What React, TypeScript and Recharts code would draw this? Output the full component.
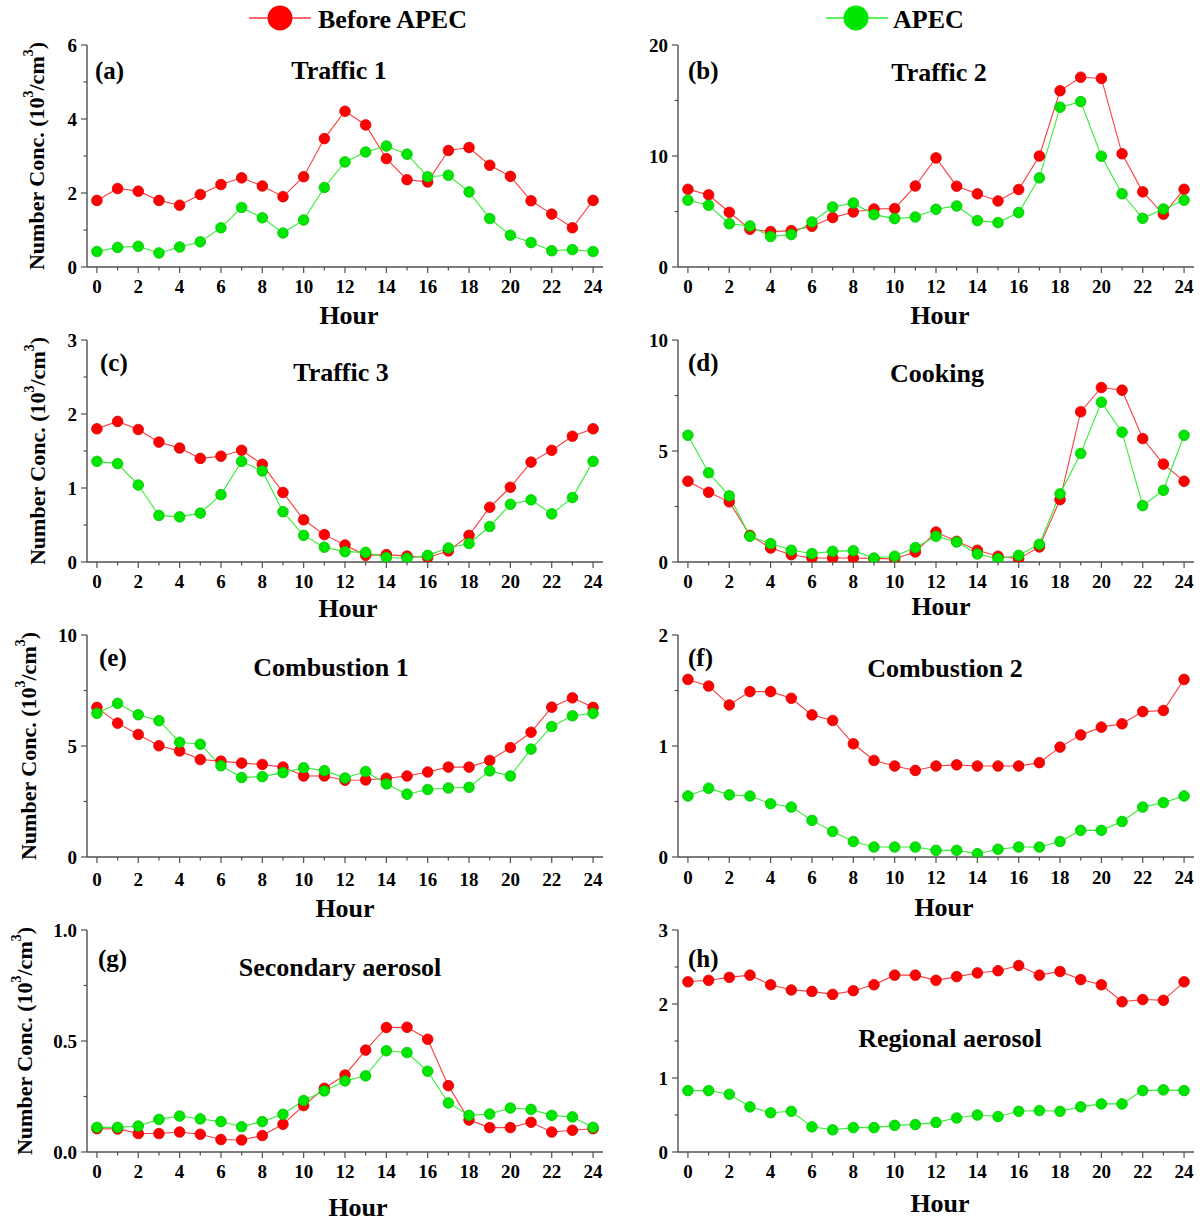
import React from 'react';
import { LineChart, Line, XAxis, YAxis } from 'recharts';

// ---------- data ----------
const hours = [0, 1, 2, 3, 4, 5, 6, 7, 8, 9, 10, 11, 12, 13, 14, 15, 16, 17, 18, 19, 20, 21, 22, 23, 24];
const xMajorTicks = [0, 2, 4, 6, 8, 10, 12, 14, 16, 18, 20, 22, 24];

const traffic1Before = [1.80, 2.12, 2.05, 1.80, 1.67, 1.96, 2.23, 2.41, 2.19, 1.90, 2.44, 3.47, 4.21, 3.84, 2.93, 2.36, 2.30, 3.15, 3.23, 2.75, 2.45, 1.79, 1.43, 1.06, 1.80];
const traffic1Apec = [0.42, 0.53, 0.56, 0.38, 0.54, 0.68, 1.06, 1.61, 1.33, 0.92, 1.27, 2.15, 2.84, 3.11, 3.27, 3.05, 2.44, 2.48, 2.03, 1.31, 0.86, 0.66, 0.44, 0.47, 0.42];

const traffic2Before = [7.0, 6.5, 4.93, 3.4, 3.19, 3.28, 3.67, 4.45, 4.96, 5.23, 5.26, 7.3, 9.83, 7.28, 6.59, 5.95, 6.98, 10.0, 15.88, 17.1, 16.99, 10.2, 6.77, 4.75, 7.0];
const traffic2Apec = [6.02, 5.56, 3.9, 3.7, 2.74, 2.92, 4.06, 5.41, 5.77, 4.72, 4.36, 4.51, 5.2, 5.5, 4.18, 4.0, 4.9, 8.03, 14.4, 14.9, 9.98, 6.6, 4.39, 5.23, 6.02];

const traffic3Before = [1.80, 1.90, 1.79, 1.62, 1.54, 1.40, 1.43, 1.51, 1.32, 0.94, 0.57, 0.37, 0.23, 0.09, 0.10, 0.08, 0.06, 0.15, 0.36, 0.74, 1.01, 1.35, 1.51, 1.70, 1.80];
const traffic3Apec = [1.36, 1.33, 1.04, 0.63, 0.61, 0.66, 0.91, 1.36, 1.23, 0.68, 0.36, 0.20, 0.14, 0.13, 0.06, 0.05, 0.09, 0.19, 0.25, 0.48, 0.78, 0.84, 0.65, 0.87, 1.36];

const cookingBefore = [3.64, 3.14, 2.71, 1.2, 0.63, 0.33, 0.18, 0.18, 0.18, 0.15, 0.15, 0.45, 1.35, 0.93, 0.53, 0.26, 0.15, 0.68, 2.81, 6.77, 7.86, 7.74, 5.56, 4.41, 3.64];
const cookingApec = [5.71, 4.02, 2.98, 1.16, 0.83, 0.53, 0.38, 0.48, 0.51, 0.18, 0.26, 0.65, 1.16, 0.9, 0.36, 0.15, 0.3, 0.8, 3.07, 4.89, 7.2, 5.85, 2.54, 3.23, 5.71];

const combustion1Before = [6.74, 6.03, 5.52, 5.01, 4.78, 4.39, 4.32, 4.23, 4.17, 4.05, 3.65, 3.65, 3.46, 3.47, 3.55, 3.65, 3.83, 4.05, 4.05, 4.35, 4.93, 5.62, 6.75, 7.17, 6.74];
const combustion1Apec = [6.47, 6.92, 6.41, 6.14, 5.17, 5.08, 4.11, 3.58, 3.62, 3.80, 4.02, 3.89, 3.56, 3.85, 3.29, 2.83, 3.04, 3.11, 3.14, 3.88, 3.65, 4.86, 5.88, 6.36, 6.47];

const combustion2Before = [1.60, 1.54, 1.37, 1.49, 1.49, 1.43, 1.28, 1.23, 1.02, 0.87, 0.82, 0.78, 0.82, 0.83, 0.82, 0.82, 0.82, 0.85, 0.99, 1.10, 1.17, 1.20, 1.31, 1.32, 1.60];
const combustion2Apec = [0.55, 0.62, 0.56, 0.55, 0.48, 0.45, 0.33, 0.23, 0.14, 0.09, 0.09, 0.09, 0.06, 0.06, 0.03, 0.07, 0.09, 0.09, 0.14, 0.24, 0.24, 0.32, 0.45, 0.49, 0.55];

const secondaryBefore = [0.105, 0.104, 0.083, 0.083, 0.09, 0.08, 0.056, 0.054, 0.074, 0.125, 0.209, 0.287, 0.347, 0.459, 0.561, 0.562, 0.508, 0.299, 0.144, 0.11, 0.11, 0.134, 0.09, 0.098, 0.105];
const secondaryApec = [0.111, 0.111, 0.117, 0.147, 0.162, 0.149, 0.137, 0.114, 0.137, 0.170, 0.232, 0.275, 0.32, 0.343, 0.456, 0.448, 0.364, 0.221, 0.165, 0.171, 0.198, 0.192, 0.165, 0.158, 0.111];

const regionalBefore = [2.30, 2.32, 2.36, 2.39, 2.26, 2.19, 2.17, 2.13, 2.18, 2.26, 2.39, 2.39, 2.32, 2.37, 2.42, 2.45, 2.52, 2.39, 2.44, 2.33, 2.26, 2.03, 2.06, 2.05, 2.30];
const regionalApec = [0.83, 0.83, 0.78, 0.61, 0.53, 0.55, 0.34, 0.30, 0.33, 0.33, 0.36, 0.37, 0.40, 0.46, 0.50, 0.48, 0.55, 0.56, 0.55, 0.61, 0.65, 0.65, 0.83, 0.84, 0.83];

const seriesNames = ['Before APEC', 'APEC'];

// y ticks (major labelled, minor unlabelled)
const yMajorA = [0, 2, 4, 6];
const yMinorA = [1, 3, 5];
const yMajorB = [0, 10, 20];
const yMinorB = [5, 15];
const yMajorC = [0, 1, 2, 3];
const yMinorC = [0.5, 1.5, 2.5];
const yMajorD = [0, 5, 10];
const yMinorD = [2.5, 7.5];
const yMajorE = [0, 5, 10];
const yMinorE = [2.5, 7.5];
const yMajorF = [0, 1, 2];
const yMinorF = [0.5, 1.5];
const yMajorG = [0, 0.5, 1.0];
const yMinorG = [0.25, 0.75];
const yMajorH = [0, 1, 2, 3];
const yMinorH = [0.5, 1.5, 2.5];

// ---------- styles ----------
const FONT = "'Liberation Serif', 'Times New Roman', serif";
const FRAME = '#505050';
const RED_LINE = '#ff3b3b';
const RED_DOT = '#ff0000';
const RED_EDGE = '#d80000';
const GREEN_LINE = '#33ee33';
const GREEN_DOT = '#00e600';
const GREEN_EDGE = '#00c400';

const COL_PLOT_LEFT = [87, 678];
const COL_CHART_LEFT = [0, 600];
const ROW_PLOT_TOP = [45, 340, 635, 930];
const PLOT_W = 516;
const PLOT_H = 222;
const M_TOP = 16;
const M_RIGHT = 8;
const X_AXIS_H = 60;

type PanelCfg = {
  letter: string;
  title: string;
  before: number[];
  apec: number[];
  yMajor: number[];
  yMinor: number[];
  yDigits: number;
  col: number;
  row: number;
  titleX: number;
  titleY: number;
  letterX: number;
  letterY: number;
  hourX: number;
  hourY: number;
  xLabelGap: number;
};

const panels: PanelCfg[] = [
  { letter: '(a)', title: 'Traffic 1', before: traffic1Before, apec: traffic1Apec, yMajor: yMajorA, yMinor: yMinorA, yDigits: 0, col: 0, row: 0, titleX: 339, titleY: 70, letterX: 95, letterY: 70, hourX: 349, hourY: 315, xLabelGap: 19 },
  { letter: '(b)', title: 'Traffic 2', before: traffic2Before, apec: traffic2Apec, yMajor: yMajorB, yMinor: yMinorB, yDigits: 0, col: 1, row: 0, titleX: 939, titleY: 72, letterX: 688, letterY: 70, hourX: 940, hourY: 315, xLabelGap: 19 },
  { letter: '(c)', title: 'Traffic 3', before: traffic3Before, apec: traffic3Apec, yMajor: yMajorC, yMinor: yMinorC, yDigits: 0, col: 0, row: 1, titleX: 341, titleY: 372, letterX: 100, letterY: 362, hourX: 348, hourY: 608, xLabelGap: 19 },
  { letter: '(d)', title: 'Cooking', before: cookingBefore, apec: cookingApec, yMajor: yMajorD, yMinor: yMinorD, yDigits: 0, col: 1, row: 1, titleX: 937, titleY: 373, letterX: 688, letterY: 362, hourX: 941, hourY: 606, xLabelGap: 19 },
  { letter: '(e)', title: 'Combustion 1', before: combustion1Before, apec: combustion1Apec, yMajor: yMajorE, yMinor: yMinorE, yDigits: 0, col: 0, row: 2, titleX: 331, titleY: 667, letterX: 99, letterY: 657, hourX: 345, hourY: 908, xLabelGap: 22 },
  { letter: '(f)', title: 'Combustion 2', before: combustion2Before, apec: combustion2Apec, yMajor: yMajorF, yMinor: yMinorF, yDigits: 0, col: 1, row: 2, titleX: 945, titleY: 668, letterX: 688, letterY: 657, hourX: 944, hourY: 907, xLabelGap: 20 },
  { letter: '(g)', title: 'Secondary aerosol', before: secondaryBefore, apec: secondaryApec, yMajor: yMajorG, yMinor: yMinorG, yDigits: 1, col: 0, row: 3, titleX: 340, titleY: 967, letterX: 98, letterY: 958, hourX: 358, hourY: 1207, xLabelGap: 19 },
  { letter: '(h)', title: 'Regional aerosol', before: regionalBefore, apec: regionalApec, yMajor: yMajorH, yMinor: yMinorH, yDigits: 0, col: 1, row: 3, titleX: 950, titleY: 1038, letterX: 688, letterY: 958, hourX: 940, hourY: 1203, xLabelGap: 19 },
];

const Y_LABEL_X = [36, 37, 28, 24];

const tickTextStyle: React.CSSProperties = {
  fontFamily: FONT,
  fontWeight: 700,
  fontSize: 19,
  fill: '#000',
};

const isIn = (arr: number[], v: number) => arr.some((a) => Math.abs(a - v) < 1e-9);

function Panel({ cfg }: { cfg: PanelCfg }) {
  const rows = hours.map((h, i) => ({ hour: h, before: cfg.before[i], apec: cfg.apec[i] }));
  const chartLeft = COL_CHART_LEFT[cfg.col];
  const yAxisW = COL_PLOT_LEFT[cfg.col] - chartLeft;
  const width = yAxisW + PLOT_W + M_RIGHT;
  const height = M_TOP + PLOT_H + X_AXIS_H;
  const top = ROW_PLOT_TOP[cfg.row] - M_TOP;
  const yMax = cfg.yMajor[cfg.yMajor.length - 1];
  const yTicks = [...cfg.yMajor, ...cfg.yMinor].sort((a, b) => a - b);
  const xDomain: [number, number] = [-0.48, 24.48];

  const bottomTick = (props: any) => {
    const { x, y, payload } = props;
    const v = payload.value;
    const major = isIn(xMajorTicks, v);
    return (
      <g>
        <line x1={x} y1={y} x2={x} y2={y + (major ? 6 : 3.5)} stroke={FRAME} strokeWidth={1.2} />
        {major && (
          <text x={x} y={y + cfg.xLabelGap} textAnchor="middle" dominantBaseline="central" style={tickTextStyle}>
            {v}
          </text>
        )}
      </g>
    );
  };
  const topTick = (props: any) => {
    const { x, y, payload } = props;
    const major = isIn(xMajorTicks, payload.value);
    return <line x1={x} y1={y} x2={x} y2={y + (major ? 6 : 3.5)} stroke={FRAME} strokeWidth={1.2} />;
  };
  const leftTick = (props: any) => {
    const { x, y, payload } = props;
    const v = payload.value;
    const major = isIn(cfg.yMajor, v);
    return (
      <g>
        <line x1={x} y1={y} x2={x - (major ? 6 : 3.5)} y2={y} stroke={FRAME} strokeWidth={1.2} />
        {major && (
          <text x={x - 10} y={y} textAnchor="end" dominantBaseline="central" style={tickTextStyle}>
            {v.toFixed(cfg.yDigits)}
          </text>
        )}
      </g>
    );
  };
  const rightTick = (props: any) => {
    const { x, y, payload } = props;
    const major = isIn(cfg.yMajor, payload.value);
    return <line x1={x} y1={y} x2={x - (major ? 6 : 3.5)} y2={y} stroke={FRAME} strokeWidth={1.2} />;
  };

  const axisLine = { stroke: FRAME, strokeWidth: 1.4 };

  return (
    <div style={{ position: 'absolute', left: chartLeft, top }}>
      <LineChart width={width} height={height} data={rows} margin={{ top: M_TOP, right: M_RIGHT, left: 0, bottom: 0 }}>
        <XAxis
          xAxisId="bottom"
          dataKey="hour"
          type="number"
          domain={xDomain}
          allowDataOverflow
          ticks={hours}
          interval={0}
          height={X_AXIS_H}
          tickSize={0}
          tickMargin={0}
          tickLine={false}
          axisLine={axisLine}
          tick={bottomTick}
        />
        <XAxis
          xAxisId="top"
          orientation="top"
          dataKey="hour"
          type="number"
          domain={xDomain}
          allowDataOverflow
          ticks={hours}
          interval={0}
          height={0}
          tickSize={0}
          tickMargin={0}
          tickLine={false}
          axisLine={axisLine}
          tick={topTick}
        />
        <YAxis
          yAxisId="left"
          type="number"
          domain={[0, yMax]}
          allowDataOverflow
          ticks={yTicks}
          interval={0}
          width={yAxisW}
          tickSize={0}
          tickMargin={0}
          tickLine={false}
          axisLine={axisLine}
          tick={leftTick}
        />
        <YAxis
          yAxisId="right"
          orientation="right"
          type="number"
          domain={[0, yMax]}
          allowDataOverflow
          ticks={yTicks}
          interval={0}
          width={0}
          tickSize={0}
          tickMargin={0}
          tickLine={false}
          axisLine={axisLine}
          tick={rightTick}
        />
        <Line
          xAxisId="bottom"
          yAxisId="left"
          type="linear"
          dataKey="before"
          name={seriesNames[0]}
          stroke={RED_LINE}
          strokeWidth={1.1}
          dot={{ r: 5.3, fill: RED_DOT, stroke: RED_EDGE, strokeWidth: 0.8 }}
          activeDot={false}
          isAnimationActive={false}
        />
        <Line
          xAxisId="bottom"
          yAxisId="left"
          type="linear"
          dataKey="apec"
          name={seriesNames[1]}
          stroke={GREEN_LINE}
          strokeWidth={1.1}
          dot={{ r: 5.3, fill: GREEN_DOT, stroke: GREEN_EDGE, strokeWidth: 0.8 }}
          activeDot={false}
          isAnimationActive={false}
        />
      </LineChart>
    </div>
  );
}

function Overlay() {
  const txt = { fontFamily: FONT, fontWeight: 700, fill: '#000' } as const;
  return (
    <svg width={1200} height={1225} style={{ position: 'absolute', left: 0, top: 0, pointerEvents: 'none' }}>
      {/* legend */}
      <line x1={249} y1={18} x2={311} y2={18} stroke="#ff6a6a" strokeWidth={2} />
      <circle cx={280} cy={18} r={12.5} fill={RED_DOT} />
      <text x={318} y={19} dominantBaseline="central" style={{ ...txt, fontSize: 26 }}>
        {seriesNames[0]}
      </text>
      <line x1={826} y1={18} x2={888} y2={18} stroke="#5cf25c" strokeWidth={2} />
      <circle cx={856} cy={18} r={12.5} fill={GREEN_DOT} />
      <text x={893} y={19} dominantBaseline="central" style={{ ...txt, fontSize: 26 }}>
        {seriesNames[1]}
      </text>

      {panels.map((p) => (
        <g key={p.letter}>
          <text x={p.titleX} y={p.titleY} textAnchor="middle" dominantBaseline="central" style={{ ...txt, fontSize: 26 }}>
            {p.title}
          </text>
          <text x={p.letterX} y={p.letterY} dominantBaseline="central" style={{ ...txt, fontSize: 25 }}>
            {p.letter}
          </text>
          <text x={p.hourX} y={p.hourY} textAnchor="middle" dominantBaseline="central" style={{ ...txt, fontSize: 26 }}>
            Hour
          </text>
        </g>
      ))}

      {ROW_PLOT_TOP.map((t, i) => {
        const cx = Y_LABEL_X[i];
        const cy = t + PLOT_H / 2;
        return (
          <text
            key={'yl' + i}
            transform={`translate(${cx},${cy}) rotate(-90)`}
            textAnchor="middle"
            dominantBaseline="central"
            style={{ ...txt, fontSize: 22 }}
          >
            Number Conc. (10
            <tspan dy={-8} fontSize={14}>3</tspan>
            <tspan dy={8}>/cm</tspan>
            <tspan dy={-8} fontSize={14}>3</tspan>
            <tspan dy={8}>)</tspan>
          </text>
        );
      })}
    </svg>
  );
}

export default function App() {
  return (
    <div style={{ position: 'absolute', left: 0, top: 0, width: 1200, height: 1225, background: '#fff', overflow: 'hidden' }}>
      {panels.map((p) => (
        <Panel key={p.letter} cfg={p} />
      ))}
      <Overlay />
    </div>
  );
}
